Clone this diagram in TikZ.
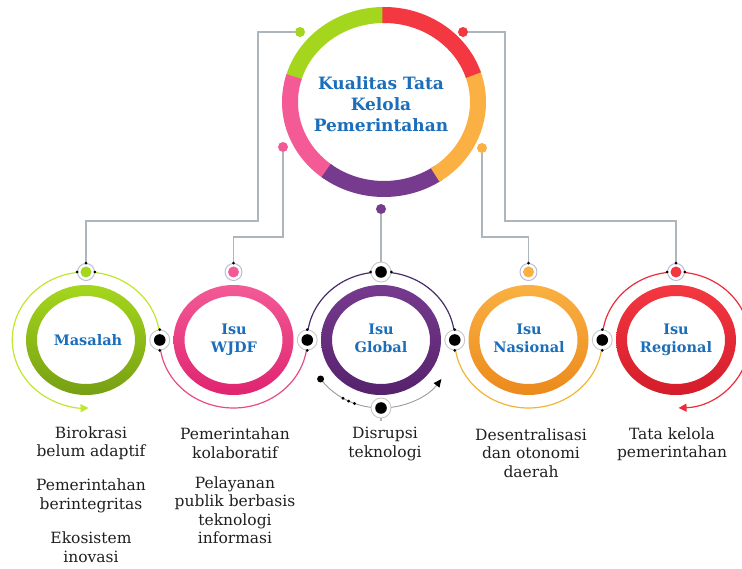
\documentclass[tikz,border=0pt]{standalone}
\usepackage{fontspec}
\setmainfont{DejaVu Serif}
\usetikzlibrary{arrows.meta,calc}
\definecolor{tblue}{RGB}{27,110,185}
\definecolor{cgreen}{RGB}{165,214,30}
\definecolor{cgreenD}{RGB}{118,160,18}
\definecolor{cpink}{RGB}{243,90,150}
\definecolor{cpinkD}{RGB}{224,36,112}
\definecolor{cpurple}{RGB}{118,58,142}
\definecolor{cpurpleD}{RGB}{86,34,108}
\definecolor{corange}{RGB}{250,176,66}
\definecolor{corangeD}{RGB}{236,138,28}
\definecolor{cred}{RGB}{244,56,66}
\definecolor{credD}{RGB}{212,28,42}
\definecolor{lgreen}{RGB}{192,230,45}
\definecolor{lpink}{RGB}{232,74,134}
\definecolor{lpurple}{RGB}{72,44,110}
\definecolor{lorange}{RGB}{242,180,52}
\definecolor{lred}{RGB}{236,44,58}
\definecolor{conn}{RGB}{172,182,188}
\definecolor{ringgray}{RGB}{182,184,214}
\begin{document}
\begin{tikzpicture}[x=1pt,y=1pt,
  conline/.style={draw=conn, line width=1.1pt},
  thin/.style={line width=1.2pt},
  bdot/.style={circle, draw=black!22, line width=0.9pt, fill=white, minimum size=20pt, inner sep=0pt,
    path picture={\fill[black] (path picture bounding box.center) circle (5.8pt);}},
  cdot/.style={circle, draw=ringgray, line width=0.9pt, fill=white, minimum size=17pt, inner sep=0pt,
    path picture={\fill[#1] (path picture bounding box.center) circle (5.5pt);}},
  tdot/.style={circle, fill=#1, minimum size=10pt, inner sep=0pt},
  tiny/.style={circle, fill=black, minimum size=3pt, inner sep=0pt},
  lbl/.style={text=tblue, font=\bfseries\fontsize{14.5}{18}\selectfont, align=center},
  ttl/.style={text=tblue, font=\bfseries\fontsize{17}{21}\selectfont, align=center},
  body/.style={text=black!88, font=\fontsize{15.5}{18.5}\selectfont, align=center},
  seg/.style={line width=16pt, draw=#1}
]
\useasboundingbox (0,0) rectangle (742,568);

% ---------- top circle ----------
\coordinate (T) at (384,466);
\fill[white] (T) ellipse [x radius=102pt, y radius=95pt];
\draw[seg=cgreen] (T) ++(89:94pt and 87pt) arc[start angle=89, end angle=165, x radius=94pt, y radius=87pt];
\draw[seg=cpink] (T) ++(163:94pt and 87pt) arc[start angle=163, end angle=234, x radius=94pt, y radius=87pt];
\draw[seg=cpurple] (T) ++(232:94pt and 87pt) arc[start angle=232, end angle=305, x radius=94pt, y radius=87pt];
\draw[seg=corange] (T) ++(303:94pt and 87pt) arc[start angle=303, end angle=380, x radius=94pt, y radius=87pt];
\draw[seg=cred] (T) ++(18:94pt and 87pt) arc[start angle=18, end angle=91, x radius=94pt, y radius=87pt];
\node[ttl] (title) at (381,464) {Kualitas Tata\\Kelola\\Pemerintahan};

\node[tdot=cgreen] (tg) at (300,536) {};
\node[tdot=cred] (tr) at (463,536) {};
\node[tdot=cpink] (tp) at (283,421) {};
\node[tdot=corange] (to) at (482,420) {};
\node[tdot=cpurple] (tu) at (381,359) {};

% ---------- rings ----------
\foreach \n/\x/\c/\d in {m/86/cgreen/cgreenD, w/233.5/cpink/cpinkD, g/381/cpurple/cpurpleD, n/528.5/corange/corangeD, r/676/cred/credD}{
  \coordinate (\n) at (\x,228);
  \path[top color=\c, bottom color=\d, even odd rule]
    (\x,228) ellipse [x radius=60pt, y radius=55pt]
    (\x,228) ellipse [x radius=49pt, y radius=44pt];
}

% ---------- thin arcs ----------
\draw[thin, lgreen, -{Triangle[length=8pt,width=8pt]}] (m) ++(0:73.75pt and 68pt)
  arc[start angle=0, end angle=272, x radius=73.75pt, y radius=68pt];
\draw[thin, lpink] (w) ++(180:73.75pt and 68pt)
  arc[start angle=180, end angle=360, x radius=73.75pt, y radius=68pt];
\draw[thin, lpurple] (g) ++(90:73.75pt and 68pt)
  arc[start angle=90, end angle=180, x radius=73.75pt, y radius=68pt];
\draw[thin, lpurple] (g) ++(90:73.75pt and 68pt)
  arc[start angle=90, end angle=0, x radius=73.75pt, y radius=68pt];
\draw[line width=0.9pt, black!40, -{Triangle[length=8pt,width=7pt,fill=black,color=black]}] (g) ++(215:73.75pt and 68pt)
  arc[start angle=215, end angle=325, x radius=73.75pt, y radius=68pt];
\node[circle, fill=black, minimum size=7pt, inner sep=0pt] (gs) at ($(g)+(215:73.75pt and 68pt)$) {};
\foreach \a in {239,244,249}{\fill[black] ($(g)+(\a:73.75pt and 68pt)$) circle (1.6pt);}
\draw[thin, lorange] (n) ++(180:73.75pt and 68pt)
  arc[start angle=180, end angle=360, x radius=73.75pt, y radius=68pt];
\draw[thin, lred, -{Triangle[length=8pt,width=8pt]}] (r) ++(180:73.75pt and 68pt)
  arc[start angle=180, end angle=-88, x radius=73.75pt, y radius=68pt];

% ---------- dots on row ----------
\node[cdot=cgreen] (dm) at (86,296) {};
\node[cdot=cpink] (dw) at (233.5,296) {};
\node[bdot] (dgt) at (381,296) {};
\node[cdot=corange] (dn) at (528.5,296) {};
\node[cdot=cred] (dr) at (676,296) {};
\node[bdot] (b1) at (159.75,228) {};
\node[bdot] (b2) at (307.25,228) {};
\node[bdot] (b3) at (454.75,228) {};
\node[bdot] (b4) at (602.25,228) {};
\node[bdot] (dgb) at (381,160) {};

% ---------- connectors ----------
\draw[conline] (tg.west) -- (258,536) -- (258,347) -| (dm.north);
\draw[conline] (tr.east) -- (505,536) -- (505,347) -| (dr.north);
\draw[conline] (tp.south) -- (283,331) -| (dw.north);
\draw[conline] (to.south) -- (482,331) -| (dn.north);
\draw[conline] (tu.south) -- (dgt.north);
\coordinate (gend) at (381,147);
\draw[conline] (dgb.south) -- (gend);

% tiny join dots
\foreach \p in {dm.north, dw.north, dn.north, dr.north, dm.west, dm.east, dr.west, dr.east, dgt.west, dgt.east, b1.north, b1.south, b2.north, b2.south, b3.north, b3.south, b4.north, b4.south}{
  \node[tiny] at (\p) {};
}

% ---------- labels ----------
\node[lbl] (lm) at (88,228) {Masalah};
\node[lbl] (lw) at (234,228) {Isu\\WJDF};
\node[lbl] (lg) at (381,229.5) {Isu\\Global};
\node[lbl] (ln) at (529,229.5) {Isu\\Nasional};
\node[lbl] (lr) at (676,228) {Isu\\Regional};

% ---------- texts ----------
\node[body] (t1) at (91,125) {Birokrasi\\belum adaptif};
\node[body] (t2) at (91,72) {Pemerintahan\\berintegritas};
\node[body] (t3) at (91,21) {Ekosistem\\inovasi};
\node[body] (t4) at (235,125) {Pemerintahan\\kolaboratif};
\node[body] (t5) at (235,58) {Pelayanan\\publik berbasis\\teknologi\\informasi};
\node[body] (t6) at (385,124) {Disrupsi\\teknologi};
\node[body] (t7) at (531,115) {Desentralisasi\\dan otonomi\\daerah};
\node[body] (t8) at (672,124) {Tata kelola\\pemerintahan};
\end{tikzpicture}
\end{document}
